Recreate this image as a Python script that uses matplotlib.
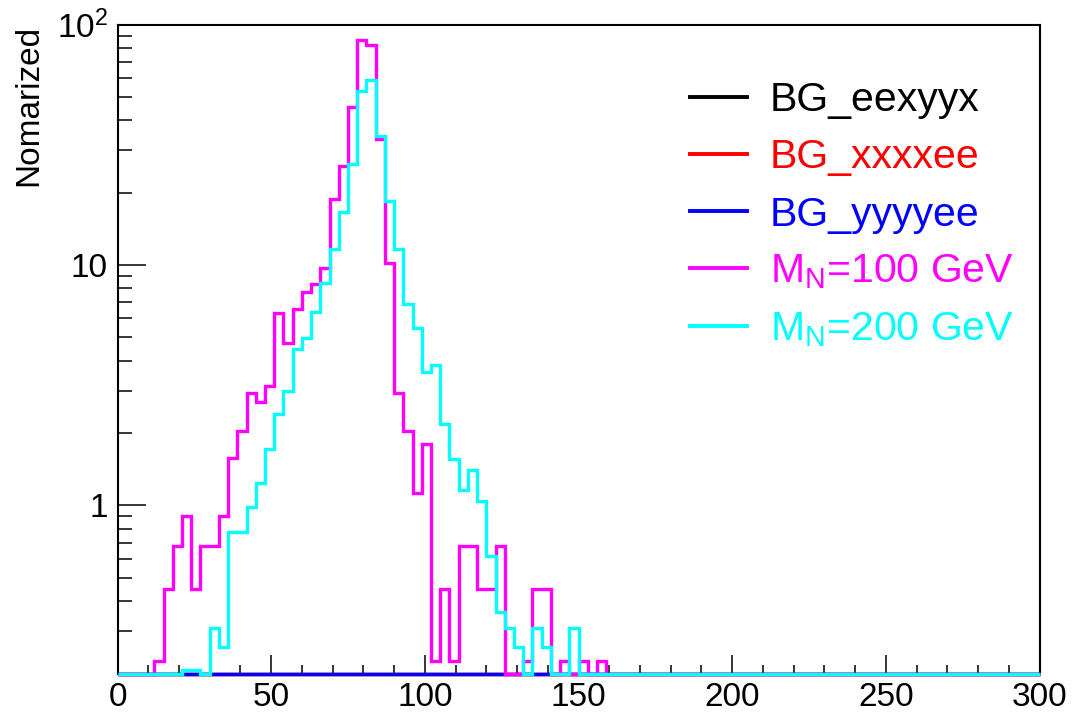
import numpy as np
import matplotlib
matplotlib.use('Agg')
import matplotlib.pyplot as plt
from matplotlib.lines import Line2D
from matplotlib.ticker import (FixedLocator, FixedFormatter, MultipleLocator,
                               LogLocator, NullFormatter)

plt.rcParams['font.family'] = 'Liberation Sans'
plt.rcParams['mathtext.fontset'] = 'custom'
plt.rcParams['mathtext.rm'] = 'Liberation Sans'

# 100 bins of width 3 from 0 to 300
bin_edges = np.arange(0, 301, 3)

# backgrounds are empty over the whole range
bg_eexyyx = [0.0] * 100
bg_xxxxee = [0.0] * 100
bg_yyyyee = [0.0] * 100

# signal, bins 0-52, rest empty
mn100 = [0, 0, 0, 0, 0.225, 0.45, 0.675, 0.90, 0.45, 0.675,
         0.675, 0.90, 1.58, 2.03, 2.93, 2.70, 3.15, 6.32, 4.74, 6.54,
         7.70, 8.37, 9.70, 18.8, 25.9, 45.4, 86.0, 81.8, 33.3, 10.2,
         2.93, 2.03, 1.13, 1.80, 0.225, 0.45, 0.225, 0.675, 0.675, 0.45,
         0.45, 0.675, 0, 0, 0.225, 0.45, 0.45, 0, 0.225, 0,
         0.225, 0, 0.225] + [0.0] * 47

# bins 0-49
mn200 = [0, 0, 0, 0, 0, 0, 0, 0.207, 0.207, 0,
         0.31, 0.259, 0.774, 0.774, 0.987, 1.235, 1.71, 2.39, 2.99, 4.47,
         4.95, 6.37, 8.40, 11.7, 16.6, 26.4, 52.7, 58.9, 34.4, 18.5,
         11.7, 6.9, 5.45, 3.59, 3.83, 2.18, 1.555, 1.16, 1.40, 1.04,
         0.619, 0.36, 0.31, 0.259, 0, 0.31, 0.259, 0, 0, 0.31] + [0.0] * 50

labels = ['BG_eexyyx', 'BG_xxxxee', 'BG_yyyyee',
          r'M$_\mathregular{N}$=100 GeV', r'M$_\mathregular{N}$=200 GeV']
series = [bg_eexyyx, bg_xxxxee, bg_yyyyee, mn100, mn200]
colors = ['#000000', '#ff0000', '#0000ff', '#ff00ff', '#00ffff']

ymin, ymax = 0.2, 100.

fig = plt.figure(figsize=(10.72, 7.13), dpi=100)
ax = fig.add_axes([117.5 / 1072, 39.5 / 713, 922 / 1072, 649 / 713])
ax.set_yscale('log')

for vals, col in zip(series, colors):
    # empty bins sit on the bottom of the frame, like ROOT draws them
    shown = np.clip(np.asarray(vals, dtype=float), ymin, None)
    ax.stairs(shown, bin_edges, baseline=None, color=col, lw=2.4,
              clip_on=False, zorder=3)

ax.set_xlim(0, 300)
ax.set_ylim(ymin, ymax)

ax.xaxis.set_major_locator(MultipleLocator(50))
ax.xaxis.set_minor_locator(MultipleLocator(10))
ax.yaxis.set_major_locator(FixedLocator([1, 10, 100]))
ax.yaxis.set_major_formatter(FixedFormatter(['1', '10',
                                             r'$\mathregular{10^{2}}$']))
ax.yaxis.set_minor_locator(LogLocator(base=10, subs=np.arange(2, 10)))
ax.yaxis.set_minor_formatter(NullFormatter())

ax.tick_params(axis='x', which='major', direction='in', length=13.5,
               width=1.1, labelsize=24, pad=6)
ax.tick_params(axis='x', which='minor', direction='in', length=6.5,
               width=1.1)
ax.tick_params(axis='y', which='major', direction='in', length=20,
               width=1.1, labelsize=24, pad=7)
ax.tick_params(axis='y', which='minor', direction='in', length=10,
               width=1.1)
for sp in ax.spines.values():
    sp.set_linewidth(1.5)

ax.set_ylabel('Nomarized', fontsize=24, loc='top')
ax.yaxis.set_label_coords(-0.079, 1.0)

handles = [Line2D([], [], color=c, lw=2.8) for c in colors]
ax.legend(handles, labels, loc='upper left',
          bbox_to_anchor=(690 / 1072, 1 - 81 / 713),
          bbox_transform=fig.transFigure, frameon=False, fontsize=29.5,
          handlelength=1.4, handletextpad=0.55, labelspacing=0.47,
          borderpad=0, borderaxespad=0, labelcolor=colors)

fig.savefig('out.png', dpi=100)
